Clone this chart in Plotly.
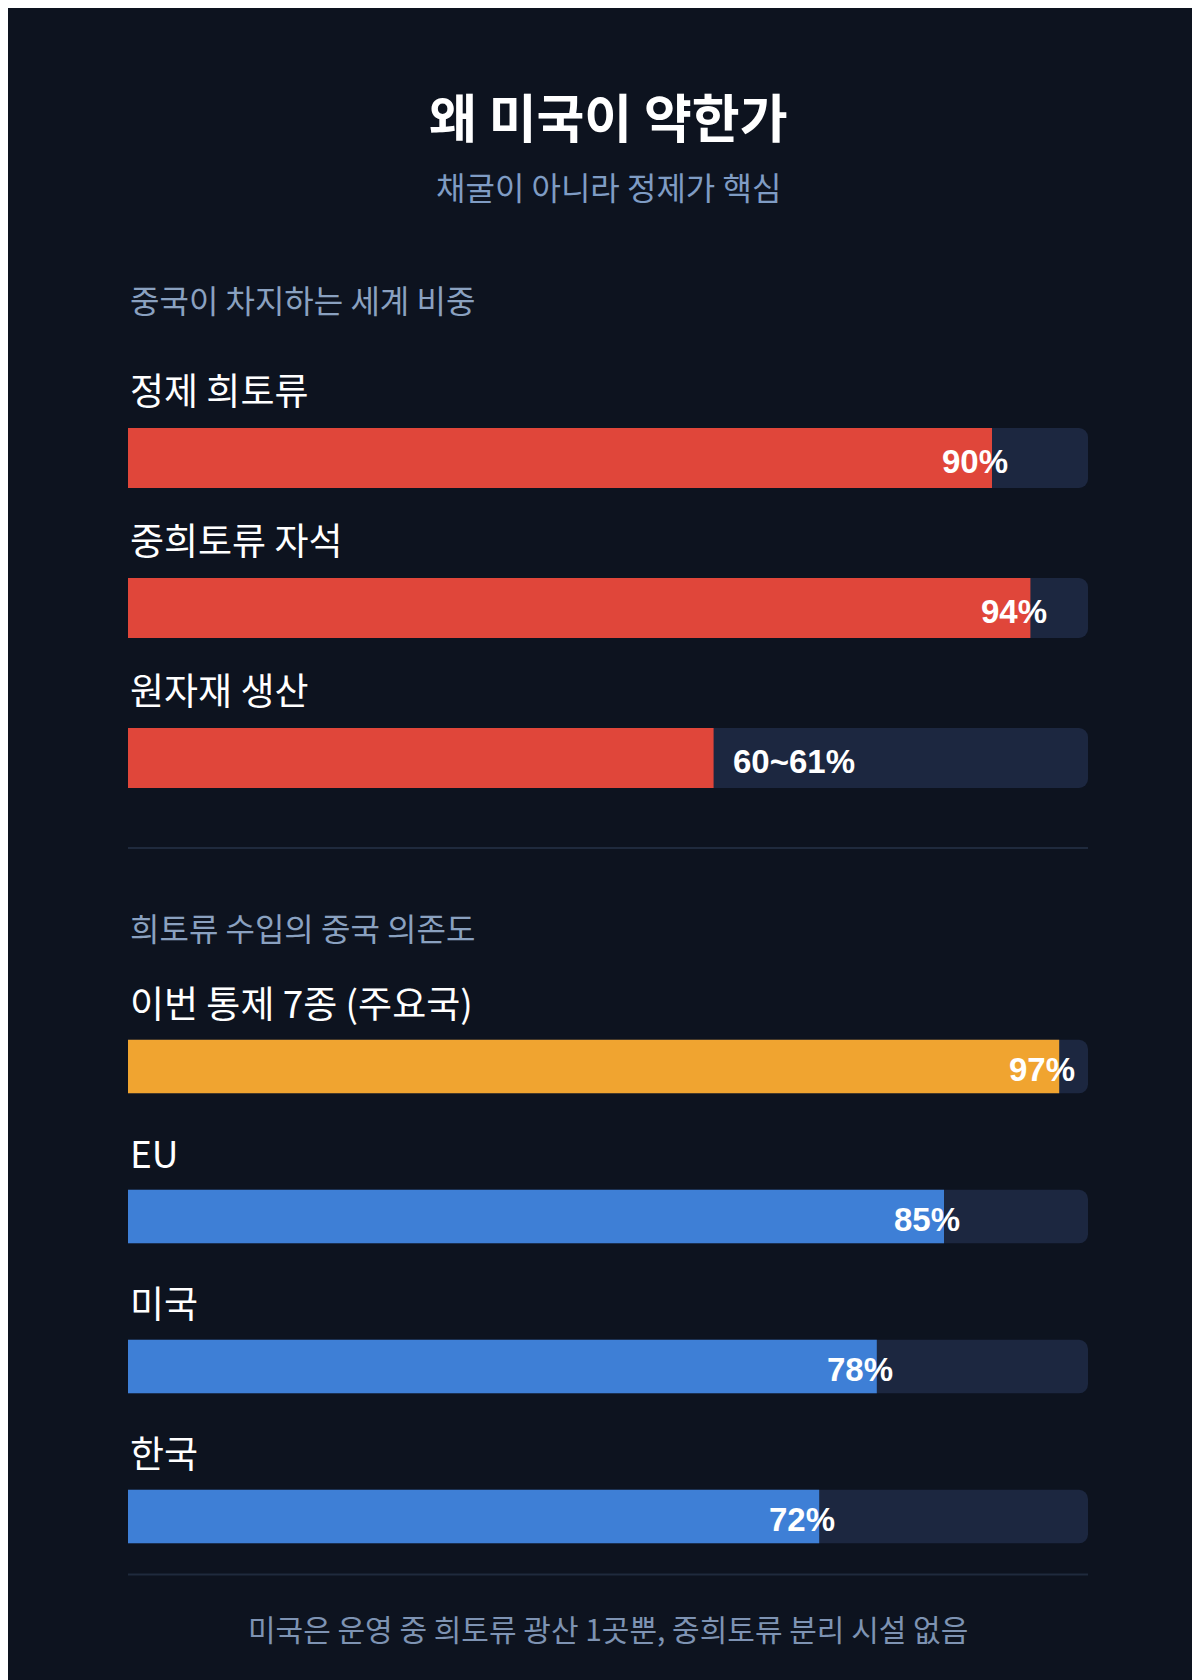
import plotly.graph_objects as go

title = "왜 미국이 약한가"
subtitle = "채굴이 아니라 정제가 핵심"
sec1_title = "중국이 차지하는 세계 비중"
sec1_labels = ["정제 희토류", "중희토류 자석", "원자재 생산"]
sec1_values = [90, 94, 61]
sec1_texts = ["90%", "94%", "60~61%"]
sec2_title = "희토류 수입의 중국 의존도"
sec2_labels = ["이번 통제 7종 (주요국)", "EU", "미국", "한국"]
sec2_values = [97, 85, 78, 72]
sec2_texts = ["97%", "85%", "78%", "72%"]
footer = "미국은 운영 중 희토류 광산 1곳뿐, 중희토류 분리 시설 없음"

BG = "#0d131f"; TRACK = "#1c2740"
RED = "#e0463a"; ORANGE = "#f0a430"; BLUE = "#3e7fd6"
KR = "Noto Sans CJK KR"

y1 = [420, 560, 700]
y2 = [988, 1128, 1268, 1408]
colors1 = [RED] * 3
colors2 = [ORANGE, BLUE, BLUE, BLUE]

fig = go.Figure()
for ys, vals, cols, w in [(y1, sec1_values, colors1, 56), (y2, sec2_values, colors2, 50)]:
    fig.add_trace(go.Bar(x=[100] * len(ys), y=ys, orientation="h", width=w,
                         marker=dict(color=TRACK, line_width=0), hoverinfo="skip"))
    fig.add_trace(go.Bar(x=vals, y=ys, orientation="h", width=w,
                         marker=dict(color=cols, line_width=0), hoverinfo="skip"))

ann = []
def t(x, y, s, size, color, xanchor="left", family=KR, bold=False):
    ann.append(dict(x=x, y=y, xref="x", yref="y", text=(f"<b>{s}</b>" if bold else s),
                    showarrow=False, xanchor=xanchor, yanchor="middle",
                    font=dict(size=size, color=color, family=family)))

t(50, 100, f"<b>{title}</b>", 52, "white", "center")
t(50, 166, subtitle, 32, "#7f9cc4", "center")
t(0, 272, sec1_title, 32, "#8aa1c0")
t(0, 858, sec2_title, 32, "#8aa1c0")
t(50, 1512, footer, 30, "#7e93b3", "center")
for ys, labs in [(y1, sec1_labels), (y2, sec2_labels)]:
    for y, l in zip(ys, labs):
        off = 64 if ys is y1 else 60
        t(0, y - off, l, 37, "white")
for ys, vals, txts in [(y1, sec1_values, sec1_texts), (y2, sec2_values, sec2_texts)]:
    for y, v, s in zip(ys, vals, txts):
        if v < 70:
            t(v + 1.8, y + 3, s, 33, "white", "left", "Liberation Sans", True)
        else:
            t(v + 1.9, y + 3, s, 33, "white", "right", "Liberation Sans", True)

shapes = [dict(type="line", xref="x", yref="y", x0=0, x1=100, y0=yy, y1=yy,
               line=dict(color="#1f2a3d", width=2)) for yy in (784, 1462)]

fig.update_layout(width=1200, height=1680, paper_bgcolor=BG, plot_bgcolor=BG,
                  margin=dict(l=0, r=0, t=0, b=0), barmode="overlay", barcornerradius=9,
                  showlegend=False, annotations=ann, shapes=shapes,
                  xaxis=dict(domain=[0.1, 0.9], range=[0, 100], visible=False, fixedrange=True),
                  yaxis=dict(range=[1568, 0], visible=False, fixedrange=True))
fig.write_html("out.html")
